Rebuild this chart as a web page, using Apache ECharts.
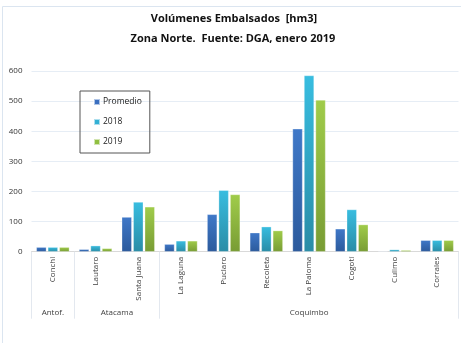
<!DOCTYPE html>
<html>
<head>
<meta charset="utf-8">
<script src="https://cdn.jsdelivr.net/npm/echarts@6/dist/echarts.min.js"></script>
<style>
html, body { margin: 0; padding: 0; background: #fff; }
#chart { width: 461px; height: 343px; }
</style>
</head>
<body>
<div id="chart"></div>
<script>
var embalses = ['Conchi', 'Lautaro', 'Santa Juana', 'La Laguna', 'Puclaro', 'Recoleta', 'La Paloma', 'Cogotí', 'Culimo', 'Corrales'];
var promedio = [15, 8, 115, 25, 124, 63, 408, 76, 2, 38];
var anio2018 = [15, 20, 165, 36, 204, 83, 585, 140, 7, 38];
var anio2019 = [15, 11, 149, 36, 190, 70, 504, 90, 5, 38];
var regiones = ['Antof.', 'Atacama', 'Coquimbo'];
var regionCentro = [0, 1.5, 6];
var regionLimites = [-0.5, 0.5, 2.5, 9.5];

function grad(top, bottom) {
	return new echarts.graphic.LinearGradient(0, 0, 0, 1, [
		{ offset: 0, color: top },
		{ offset: 1, color: bottom }
	]);
}

var chart = echarts.init(document.getElementById('chart'));
var font = 'Open Sans';

var option = {
	animation: false,
	textStyle: { fontFamily: font },
	graphic: [
		{ type: 'rect', shape: { x: 2.5, y: 6.5, width: 470, height: 350 },
		  style: { fill: 'none', stroke: '#dbe5f0', lineWidth: 1 } },
		{ type: 'text', x: 234, y: 13, style: { text: 'Volúmenes Embalsados  [hm3]', font: 'bold 11px ' + font, fill: '#111', textAlign: 'center' } },
		{ type: 'text', x: 233, y: 33, style: { text: 'Zona Norte.  Fuente: DGA, enero 2019', font: 'bold 11px ' + font, fill: '#111', textAlign: 'center' } }
	],
	legend: {
		orient: 'vertical',
		left: 80,
		top: 91,
		padding: [6, 8, 6, 13],
		itemGap: 10,
		itemWidth: 6,
		itemHeight: 6,
		icon: 'rect',
		borderColor: '#555',
		borderWidth: 1,
		textStyle: { fontSize: 8.5, color: '#222', padding: [0, 0, 0, -2], lineHeight: 10 },
		data: ['Promedio', '2018', '2019']
	},
	grid: { left: 31.5, right: 2.5, top: 71, bottom: 91.3 },
	xAxis: [{
		type: 'category',
		data: embalses,
		axisLine: { lineStyle: { color: '#d9d9d9' } },
		axisTick: { show: false },
		axisLabel: { rotate: 90, fontSize: 8, color: '#404040', margin: 5 }
	}, {
		type: 'value',
		position: 'bottom',
		min: -0.5,
		max: 9.5,
		splitLine: { show: false },
		axisLine: { show: false },
		axisTick: { show: true, customValues: regionLimites, length: 67, lineStyle: { color: '#e3e8ef' } },
		axisLabel: {
			customValues: regionCentro,
			margin: 57,
			fontSize: 8,
			color: '#404040',
			formatter: function (v) { return regiones[regionCentro.indexOf(v)]; }
		}
	}],
	yAxis: {
		type: 'value',
		min: 0,
		max: 600,
		interval: 100,
		axisLine: { show: false },
		axisTick: { show: false },
		axisLabel: { fontSize: 8, color: '#333', margin: 9 },
		splitLine: { lineStyle: { color: '#e6edf5' } }
	},
	series: [{
		name: 'Promedio', type: 'bar', data: promedio, barWidth: 10, barGap: '15%',
		itemStyle: { color: grad('#3f78c8', '#2c5a9c'), borderColor: 'rgba(255,255,255,0.6)', borderWidth: 0.5 }
	}, {
		name: '2018', type: 'bar', data: anio2018, barWidth: 10, barGap: '15%',
		itemStyle: { color: grad('#38bde0', '#2a8ca6'), borderColor: 'rgba(255,255,255,0.6)', borderWidth: 0.5 }
	}, {
		name: '2019', type: 'bar', data: anio2019, barWidth: 10, barGap: '15%',
		itemStyle: { color: grad('#a0cc4a', '#789c34'), borderColor: 'rgba(255,255,255,0.6)', borderWidth: 0.5 }
	}]
};
option.legend.data = [
	{ name: 'Promedio', itemStyle: { color: '#3a6fc0' } },
	{ name: '2018', itemStyle: { color: '#33b0d4' } },
	{ name: '2019', itemStyle: { color: '#90bf40' } }
];
chart.setOption(option);
</script>
</body>
</html>
